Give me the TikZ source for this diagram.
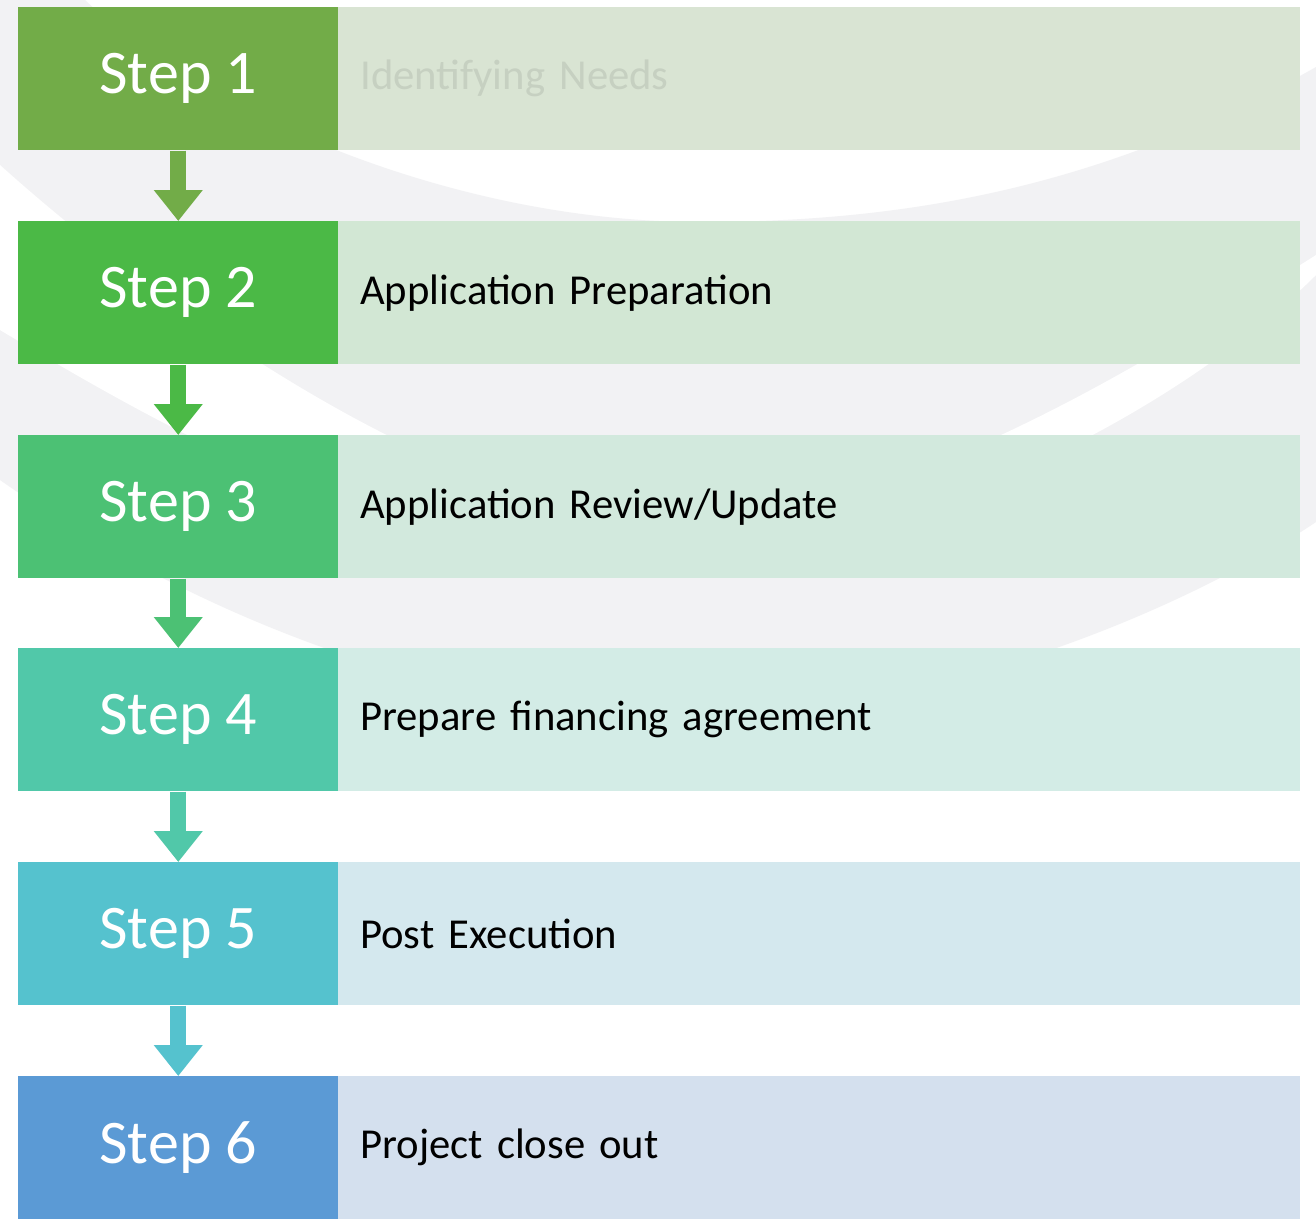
\documentclass[tikz,border=0pt]{standalone}
\usepackage{fontspec}
\setmainfont{Carlito}
\usetikzlibrary{arrows.meta}
\definecolor{bggray}{HTML}{F2F2F4}
\definecolor{dA}{HTML}{72AC48}\definecolor{lA}{HTML}{D9E4D3}
\definecolor{dB}{HTML}{4BB946}\definecolor{lB}{HTML}{D2E7D4}
\definecolor{dC}{HTML}{4CC174}\definecolor{lC}{HTML}{D2E9DD}
\definecolor{dD}{HTML}{51C8A9}\definecolor{lD}{HTML}{D3ECE6}
\definecolor{dE}{HTML}{55C2CE}\definecolor{lE}{HTML}{D4E8EE}
\definecolor{dF}{HTML}{5B9AD5}\definecolor{lF}{HTML}{D4E0EE}
\definecolor{faint}{HTML}{C6D0C1}
\begin{document}
\begin{tikzpicture}[x=0.75pt,y=-0.75pt,
  stepbox/.style={rectangle, minimum width=240pt, minimum height=107.25pt, inner sep=0pt,
    text=white, font=\fontsize{46.5}{50}\selectfont, anchor=north west},
  descbox/.style={rectangle, minimum height=107.25pt, inner xsep=16.5pt, inner ysep=0pt,
    text width=688.5pt, align=left, anchor=north west, font=\fontsize{32}{36}\selectfont},
  flowarrow/.style={line width=12pt, -{Triangle[width=35.25pt,length=23.25pt]}}]
\useasboundingbox (0,0) rectangle (1316,1218);
\fill[white] (0,0) rectangle (1316,1218);
% background swoosh
\fill[bggray] (85,0) .. controls (200,110) and (450,222) .. (700,222)
  .. controls (900,222) and (1100,190) .. (1316,67) -- (1316,522)
  .. controls (1200,600) and (950,715) .. (690,715)
  .. controls (450,715) and (200,620) .. (0,480) -- (0,0) -- cycle;
\fill[white] (0,330) .. controls (150,420) and (400,565) .. (640,565)
  .. controls (850,565) and (1150,440) .. (1316,275) -- (1316,255)
  .. controls (1150,360) and (900,520) .. (680,520)
  .. controls (450,520) and (150,300) .. (0,165) -- cycle;
% rows
\node[stepbox, fill=dA] (s1) at (18,7) {Step 1};
\node[descbox, fill=lA, text=faint] (d1) at (338,7) {Identifying Needs};
\node[stepbox, fill=dB] (s2) at (18,221) {Step 2};
\node[descbox, fill=lB] (d2) at (338,221) {Application Preparation};
\node[stepbox, fill=dC] (s3) at (18,435) {Step 3};
\node[descbox, fill=lC] (d3) at (338,435) {Application Review/Update};
\node[stepbox, fill=dD] (s4) at (18,648) {Step 4};
\node[descbox, fill=lD] (d4) at (338,648) {Prepare financing agreement};
\node[stepbox, fill=dE] (s5) at (18,862) {Step 5};
\node[descbox, fill=lE] (d5) at (338,862) {Post Execution};
\node[stepbox, fill=dF] (s6) at (18,1076) {Step 6};
\node[descbox, fill=lF] (d6) at (338,1076) {Project close out};
% arrows
\draw[flowarrow, dA] (s1.south) -- (s2.north);
\draw[flowarrow, dB] (s2.south) -- (s3.north);
\draw[flowarrow, dC] (s3.south) -- (s4.north);
\draw[flowarrow, dD] (s4.south) -- (s5.north);
\draw[flowarrow, dE] (s5.south) -- (s6.north);
\end{tikzpicture}
\end{document}
